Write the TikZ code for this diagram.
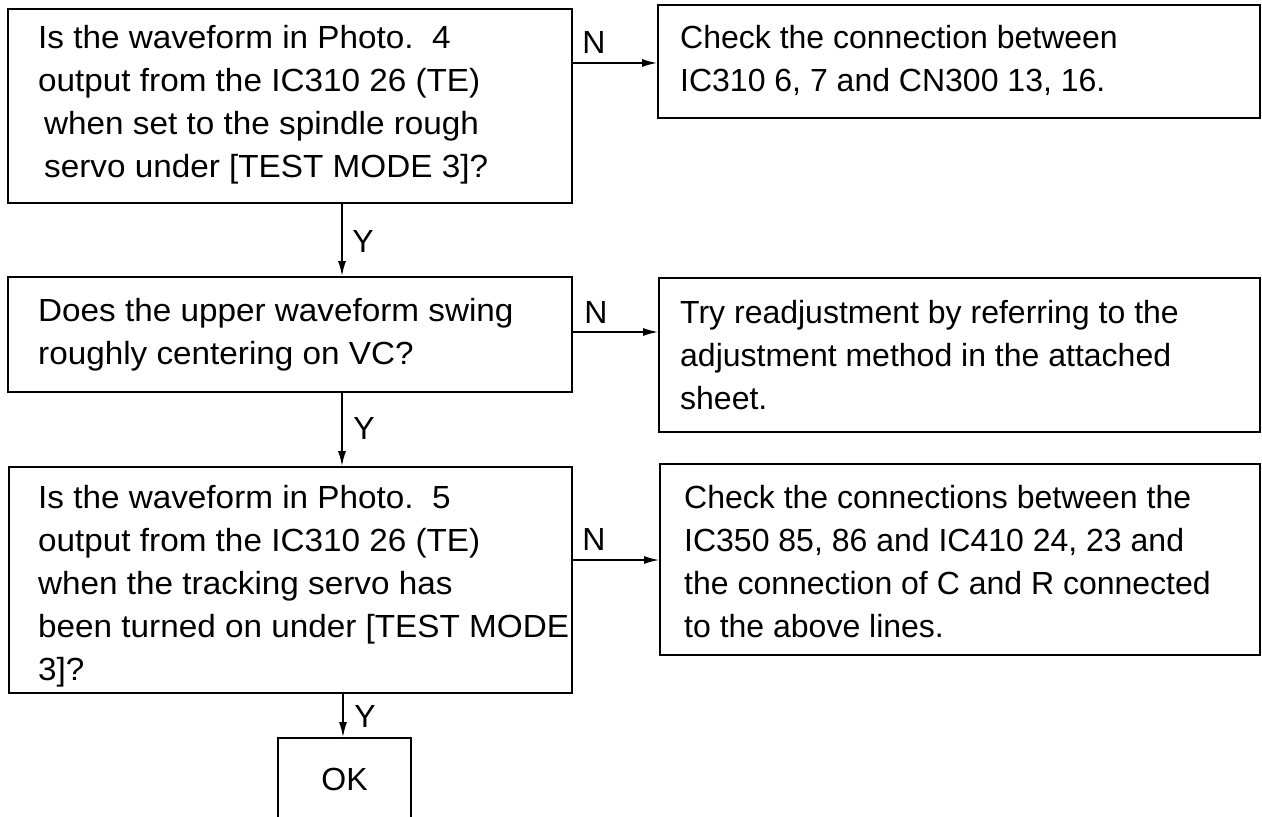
\documentclass[tikz,border=0pt]{standalone}
\usepackage{fontspec}
\setmainfont{Liberation Sans}
\newfontfamily\widesans{Liberation Sans}[FakeStretch=1.04]
\usetikzlibrary{arrows.meta}
\frenchspacing
\begin{document}
\begin{tikzpicture}[x=1pt,y=-1pt,
  box/.style={draw, line width=1.8pt, inner sep=0pt},
  txt/.style={anchor=north west, inner sep=0pt, align=left, font=\fontsize{32}{43}\selectfont},
  wtxt/.style={txt, font=\widesans\fontsize{32}{43}\selectfont},
  lbl/.style={inner sep=0pt, font=\fontsize{32}{43}\selectfont},
  arr/.style={line width=1.6pt, -{Latex[length=15pt,width=8pt]}}]
\useasboundingbox (0,0) rectangle (1262,817);
% boxes
\node[box, minimum width=564pt, minimum height=194pt] (b1) at (290,106) {};
\node[box, minimum width=602pt, minimum height=113pt] (r1) at (959,61.5) {};
\node[box, minimum width=564pt, minimum height=115pt] (b2) at (290,334.5) {};
\node[box, minimum width=601pt, minimum height=154pt] (r2) at (959.5,355) {};
\node[box, minimum width=563pt, minimum height=226pt] (b3) at (290.5,580) {};
\node[box, minimum width=600pt, minimum height=191pt] (r3) at (960,559.5) {};
\node[box, minimum width=133pt, minimum height=82pt] (ok) at (344.5,779) {};
% texts
\node[wtxt] (t1) at (38,25) {Is the waveform in Photo.\ \ 4\\output from the IC310 26 (TE)\\\hspace{6pt}when set to the spindle rough\\\hspace{6pt}servo under [TEST MODE 3]?};
\node[txt] (tr1) at (680,25) {Check the connection between\\IC310 6, 7 and CN300 13, 16.};
\node[wtxt] (t2) at (38,298) {Does the upper waveform swing\\roughly centering on VC?};
\node[txt] (tr2) at (680,300) {Try readjustment by referring to the\\adjustment method in the attached\\sheet.};
\node[wtxt] (t3) at (38,485) {Is the waveform in Photo.\ \ 5\\output from the IC310 26 (TE)\\when the tracking servo has\\been turned on under [TEST MODE\\3]?};
\node[txt] (tr3) at (684,485) {Check the connections between the\\IC350 85, 86 and IC410 24, 23 and\\the connection of C and R connected\\to the above lines.};
\node[lbl] (tok) at (ok.center) {OK};
% connector helpers
\coordinate (h1) at (0,63);
\coordinate (h2) at (0,332);
\coordinate (h3) at (0,560);
\coordinate (v1) at (342,0);
\coordinate (v3) at (343,0);
% connectors
\draw[arr] (b1.east |- h1) -- (r1.west |- h1);
\draw[arr] (b2.east |- h2) -- (r2.west |- h2);
\draw[arr] (b3.east |- h3) -- (r3.west |- h3);
\draw[arr] (b1.south -| v1) -- (b2.north -| v1);
\draw[arr] (b2.south -| v1) -- (b3.north -| v1);
\draw[arr] (b3.south -| v3) -- (ok.north -| v3);
% labels
\node[lbl] (n1) at (594,42) {N};
\node[lbl] (n2) at (596,312) {N};
\node[lbl] (n3) at (594,539) {N};
\node[lbl] (y1) at (363,241) {Y};
\node[lbl] (y2) at (364,428) {Y};
\node[lbl] (y3) at (365,716) {Y};
\end{tikzpicture}
\end{document}
